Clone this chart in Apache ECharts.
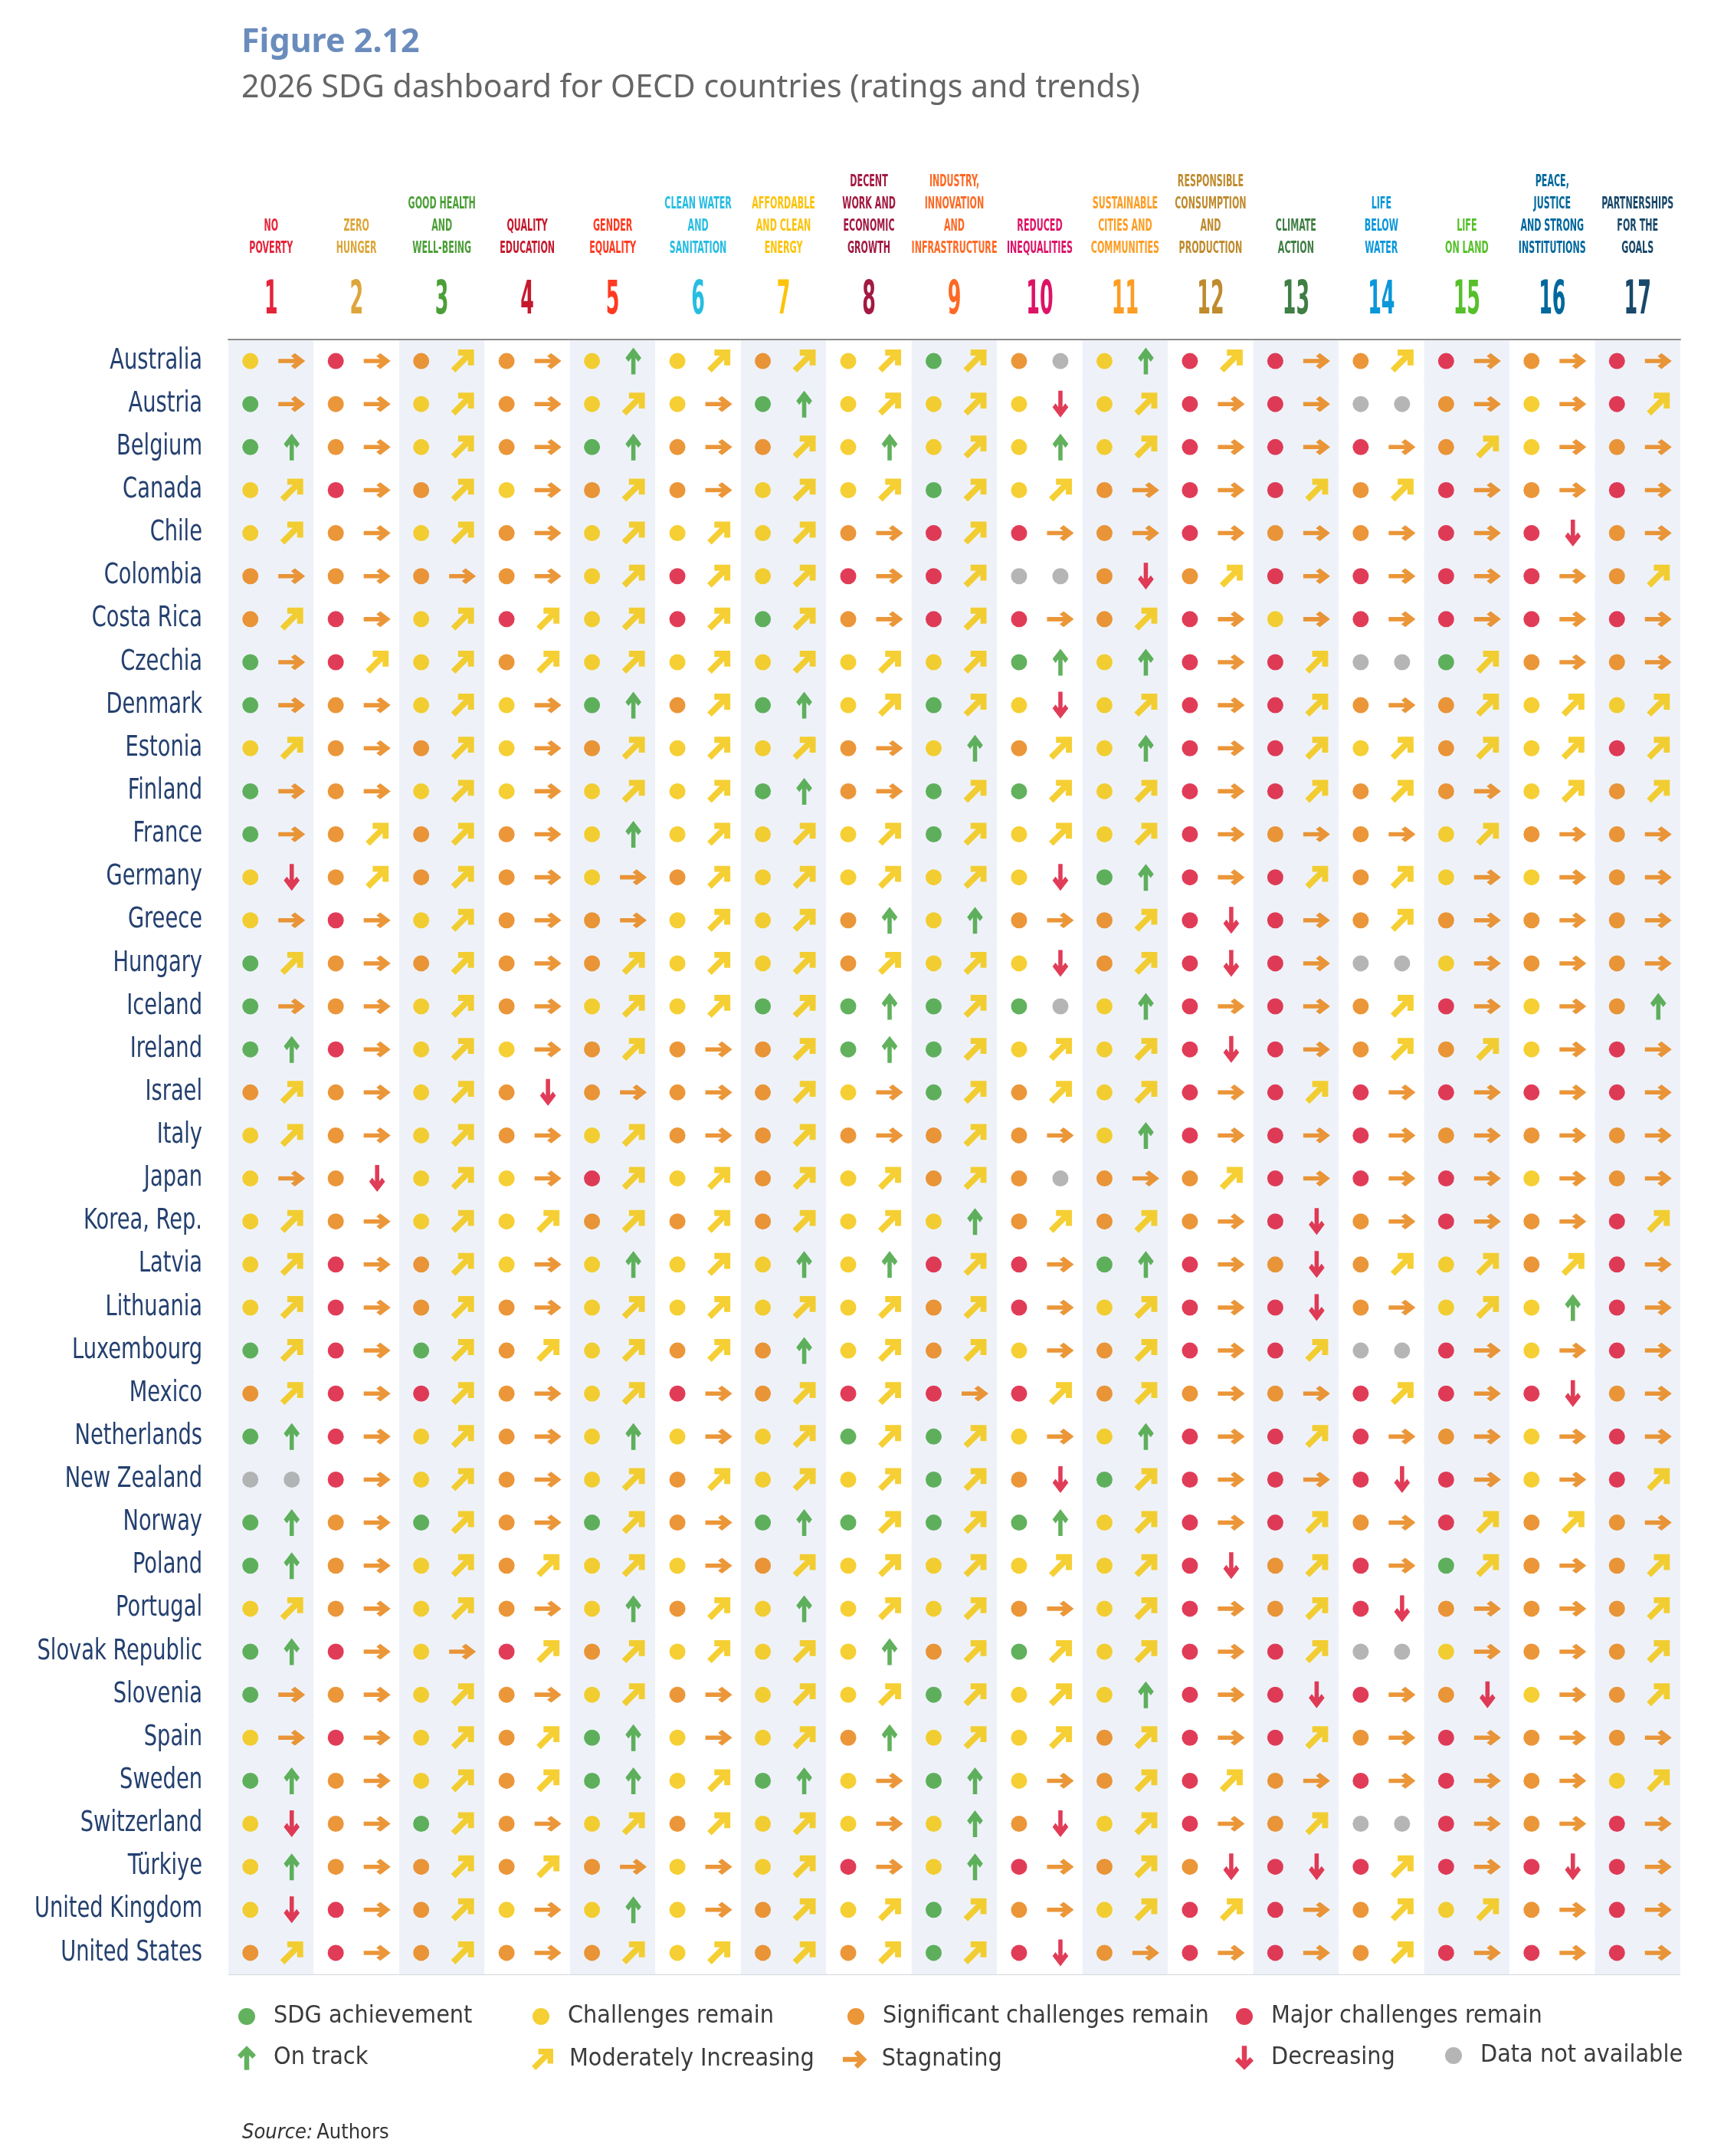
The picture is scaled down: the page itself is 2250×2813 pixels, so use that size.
<!DOCTYPE html>
<html>
<head>
<meta charset="utf-8">
<script src="https://cdn.jsdelivr.net/npm/echarts@6/dist/echarts.min.js"></script>
<style>
html,body{margin:0;padding:0;background:#fff;}
#chart{width:2250px;height:2813px;}
</style>
</head>
<body>
<div id="chart"></div>
<script>
// ---------- DATA ----------
const countries = ['Australia','Austria','Belgium','Canada','Chile','Colombia','Costa Rica','Czechia','Denmark','Estonia','Finland','France','Germany','Greece','Hungary','Iceland','Ireland','Israel','Italy','Japan','Korea, Rep.','Latvia','Lithuania','Luxembourg','Mexico','Netherlands','New Zealand','Norway','Poland','Portugal','Slovak Republic','Slovenia','Spain','Sweden','Switzerland','Türkiye','United Kingdom','United States'];

const goalNumbers = ['1','2','3','4','5','6','7','8','9','10','11','12','13','14','15','16','17'];

const goalNames = ['NO\nPOVERTY','ZERO\nHUNGER','GOOD HEALTH\nAND\nWELL-BEING','QUALITY\nEDUCATION','GENDER\nEQUALITY','CLEAN WATER\nAND\nSANITATION','AFFORDABLE\nAND CLEAN\nENERGY','DECENT\nWORK AND\nECONOMIC\nGROWTH','INDUSTRY,\nINNOVATION\nAND\nINFRASTRUCTURE','REDUCED\nINEQUALITIES','SUSTAINABLE\nCITIES AND\nCOMMUNITIES','RESPONSIBLE\nCONSUMPTION\nAND\nPRODUCTION','CLIMATE\nACTION','LIFE\nBELOW\nWATER','LIFE\nON LAND','PEACE,\nJUSTICE\nAND STRONG\nINSTITUTIONS','PARTNERSHIPS\nFOR THE\nGOALS'];

// Ratings per country (one letter per goal 1..17): G achievement, Y challenges, O significant, R major, N not available
const ratingRows = [
'YROOYYOYGOYRROROR','GOYOYYGYYYYRRNOYR','GOYOGOOYYYYRRROYO','YROYOOYYGYORROROR','YOYOYYYORROROORRO',
'OOOOYRYRRNOORRRRO','ORYRYRGORRORYRRRR','GRYOYYYYYGYRRNGOO','GOYYGOGYGYYRROOYY','YOOYOYYOYOYRRYOYR',
'GOYYYYGOGGYRROOYO','GOOOYYYYGYYROOYOO','YOOOYOYYYYGRROYYO','YRYOOYYOYOORROOOO','GOOOOYYOYYORRNYOO',
'GOYOYYGGGGYRRORYO','GRYYOOOGGYYRROOYR','OOYOOOOYGOYRRRRRR','YOYOYOOOOOYRRROOO','YOYYRYOYOOOORRRYO',
'YOYYOOOYYOOOROROR','YROYYYYYRRGROOYOR','YROOYYYYORYRROYYR','GRGOYOOYOYORRNRYR','ORROYRORRROOORRRO',
'GRYOYYYGGYYRRROYR','NRYOYOYYGOGRRRRYR','GOGOGOGGGGYRROROO','GOYOYYOYYYYRORGOO','YOYOYOYYYOYROROOO',
'GRYROYYYOGYRRNYOO','GOYOYOYYGYYRRROYO','YRYOGYYOYYORROROO','GOYOGYGYGYORORROY','YOGOYOYYYOYRONROR',
'YOOOOYYRYROORRRRR','YROYYYOYGOYRROYOR','OROOOYOOGRORRORRR'
];

// Trends per country (one letter per goal): U on track, M moderately increasing, S stagnating, D decreasing, N not available
const trendRows = [
'SSMSUMMMMNUMSMSSS','SSMSMSUMMDMSSNSSM','USMSUSMUMUMSSSMSS','MSMSMSMMMMSSMMSSS','MSMSMMMSMSSSSSSDS',
'SSSSMMMSMNDMSSSSM','MSMMMMMSMSMSSSSSS','SMMMMMMMMUUSMNMSS','SSMSUMUMMDMSMSMMM','MSMSMMMSUMUSMMMMM',
'SSMSMMUSMMMSMMSMM','SMMSUMMMMMMSSSMSS','DMMSSMMMMDUSMMSSS','SSMSSMMUUSMDSMSSS','MSMSMMMMMDMDSNSSS',
'SSMSMMMUMNUSSMSSU','USMSMSMUMMMDSMMSS','MSMDSSMSMMMSMSSSS','MSMSMSMSMSUSSSSSS','SDMSMMMMMNSMSSSSS',
'MSMMMMMMUMMSDSSSM','MSMSUMUUMSUSDMMMS','MSMSMMMMMSMSDSMUS','MSMMMMUMMSMSMNSSS','MSMSMSMMSMMSSMSDS',
'USMSUSMMMSUSMSSSS','NSMSMMMMMDMSSDSSM','USMSMSUMMUMSMSMMS','USMMMSMMMMMDMSMSM','MSMSUMUMMSMSMDSSM',
'USSMMMMUMMMSMNSSM','SSMSMSMMMMUSDSDSM','SSMMUSMUMMMSMSSSS','USMMUMUSUSMMSSSSM','DSMSMMMSUDMSMNSSS',
'USMMSSMSUSMDDMSDS','DSMSUSMMMSMMSMMSS','MSMSMMMMMDSSSMSSS'
];

const ratingKeys = ['G','Y','O','R'];
const ratingLabels = ['SDG achievement','Challenges remain','Significant challenges remain','Major challenges remain'];
const trendKeys = ['U','M','S','D'];
const trendLabels = ['On track','Moderately Increasing','Stagnating','Decreasing'];
const naLabel = 'Data not available';

// ---------- STYLE ----------
const goalColors = ['#E5243B','#DDA63A','#4C9F38','#C5192D','#FF3A21','#26BDE2','#FCC30B','#A21942','#FD6925','#DD1367','#FD9D24','#BF8B2E','#3F7E44','#0A97D9','#56C02B','#00689D','#19486A'];
const ratingColors = {G:'#3a9d34', Y:'#f2c300', O:'#e67c06', R:'#d90b2d', N:'#a3a3a3'};
const trendColors = {U:'#3a9d34', M:'#f2c300', S:'#e67c06', D:'#d90b2d'};
const COND = "'DejaVu Sans Condensed','Liberation Sans Narrow',sans-serif";

const ARROW_PTS = [[0,-17],[13,-4],[8.05,0.95],[3.5,-3.6],[3.5,17],[-3.5,17],[-3.5,-3.6],[-8.05,0.95],[-13,-4]];
function arrowPath(deg){
  const r = deg*Math.PI/180, c = Math.cos(r), s = Math.sin(r);
  return 'path://' + ARROW_PTS.map((p,i)=>(i?'L':'M') + (p[0]*c - p[1]*s).toFixed(2) + ',' + (p[0]*s + p[1]*c).toFixed(2)).join(' ') + ' Z';
}
const trendSymbols = {U:arrowPath(0), M:arrowPath(45), S:arrowPath(90), D:arrowPath(180)};
const trendSizes = {U:[27,35], M:[30,30], S:[35,27], D:[27,35]};

const DOT_OFF = [-27,0], ARR_OFF = [27,0], DOT = 21;

function cells(rows, key){
  const out = [];
  rows.forEach((row, ci) => { for (let g = 0; g < row.length; g++) if (row[g] === key) out.push([g, ci]); });
  return out;
}

const series = [];
ratingKeys.forEach((k,i) => series.push({
  name: ratingLabels[i], type:'scatter', symbol:'circle', symbolSize:DOT, symbolOffset:DOT_OFF,
  itemStyle:{color:ratingColors[k]}, data:cells(ratingRows,k), silent:true
}));
trendKeys.forEach((k,i) => series.push({
  name: trendLabels[i], type:'scatter', symbol:trendSymbols[k], symbolSize:trendSizes[k], symbolKeepAspect:true,
  symbolOffset:ARR_OFF, itemStyle:{color:trendColors[k]}, data:cells(trendRows,k), silent:true
}));
series.push({name:naLabel, type:'scatter', symbol:'circle', symbolSize:DOT, symbolOffset:DOT_OFF,
  itemStyle:{color:ratingColors.N}, data:cells(ratingRows,'N'), silent:true});
series.push({name:naLabel, type:'scatter', symbol:'circle', symbolSize:DOT, symbolOffset:ARR_OFF,
  itemStyle:{color:ratingColors.N}, data:cells(trendRows,'N'), silent:true});

// ---------- LEGENDS ----------
const legendText = {fontSize:32, color:'#3b3b3b', fontFamily:COND, lineHeight:30};
function leg(name, icon, cx, cy, w, h){
  return {
    data:[{name:name, icon:icon}], left:cx - w/2, top:cy - Math.max(h,30)/2,
    itemWidth:w, itemHeight:h, selectedMode:false, padding:0,
    textStyle:Object.assign({padding:[0,0,0,35 - w/2 - 5]}, legendText)
  };
}
const legends = [
  leg(ratingLabels[0],'circle',322,2630,22,22),
  leg(ratingLabels[1],'circle',706,2630,22,22),
  leg(ratingLabels[2],'circle',1117,2630,22,22),
  leg(ratingLabels[3],'circle',1624,2630,22,22),
  leg(trendLabels[0],trendSymbols.U,322,2686,24,34),
  leg(trendLabels[1],trendSymbols.M,708,2686,28,28),
  leg(trendLabels[2],trendSymbols.S,1117,2686,34,24),
  leg(trendLabels[3],trendSymbols.D,1624,2686,24,34),
  leg(naLabel,'circle',1897,2681,22,22)
];

const option = {
  animation:false,
  backgroundColor:'#ffffff',
  title:[
    {text:'Figure 2.12', left:310, top:22, textStyle:{fontSize:43, fontWeight:'bold', color:'#6a8cbd', fontFamily:"'Noto Sans',sans-serif", lineHeight:58}},
    {text:'2026 SDG dashboard for OECD countries (ratings and trends)', left:310, top:84, textStyle:{fontSize:41, fontWeight:'normal', color:'#656565', fontFamily:"'Noto Sans',sans-serif", lineHeight:52}},
    {text:'{i|Source:} {n|Authors}', left:311, top:2764, textStyle:{rich:{
      i:{fontSize:27, fontStyle:'italic', fontWeight:'normal', color:'#333', fontFamily:COND},
      n:{fontSize:27, fontWeight:'normal', color:'#333', fontFamily:COND}}}}
  ],
  legend:legends,
  grid:{left:298, top:443, width:1895, height:2133},
  xAxis:{type:'category', position:'top', data:goalNumbers,
     axisLine:{show:true, lineStyle:{color:'#8c8c8c', width:2}}, axisTick:{show:false},
     axisLabel:{show:false},
     splitArea:{show:true, areaStyle:{color:['#eef2f8','#ffffff']}},
     splitLine:{show:false}},
  yAxis:{type:'category', inverse:true, data:countries,
    axisLine:{show:false}, axisTick:{show:false},
    axisLabel:{show:false},
    splitLine:{show:true, lineStyle:{color:'#d3d7dd', width:2}}},
  series:series
};

const chart = echarts.init(document.getElementById('chart'), null, {renderer:'canvas'});
chart.setOption(option);

// Condensed header and row labels, placed at each category's pixel position from the axes
const NUM_Y = 393, NAME_BOTTOM = 338.5, LABEL_RIGHT = 264;
const labelGraphics = [];
goalNumbers.forEach((num, i) => {
  const x = chart.convertToPixel({xAxisIndex:0}, i);
  labelGraphics.push({type:'text', x:x, y:NUM_Y, scaleX:0.47, silent:true,
    style:{text:num, fill:goalColors[i], fontSize:60, fontWeight:'bold', fontFamily:COND, align:'center', verticalAlign:'middle'}});
  labelGraphics.push({type:'text', x:x, y:NAME_BOTTOM, scaleX:0.56, silent:true,
    style:{text:goalNames[i], fill:goalColors[i], fontSize:22, lineHeight:29, fontWeight:'bold', fontFamily:COND, align:'center', verticalAlign:'bottom'}});
});
countries.forEach((name, i) => {
  const y = chart.convertToPixel({yAxisIndex:0}, i);
  labelGraphics.push({type:'text', x:LABEL_RIGHT, y:y, scaleX:0.82, silent:true,
    style:{text:name, fill:'#24406f', fontSize:37, fontFamily:COND, align:'right', verticalAlign:'middle'}});
});
chart.setOption({graphic:labelGraphics});
</script>
</body>
</html>
